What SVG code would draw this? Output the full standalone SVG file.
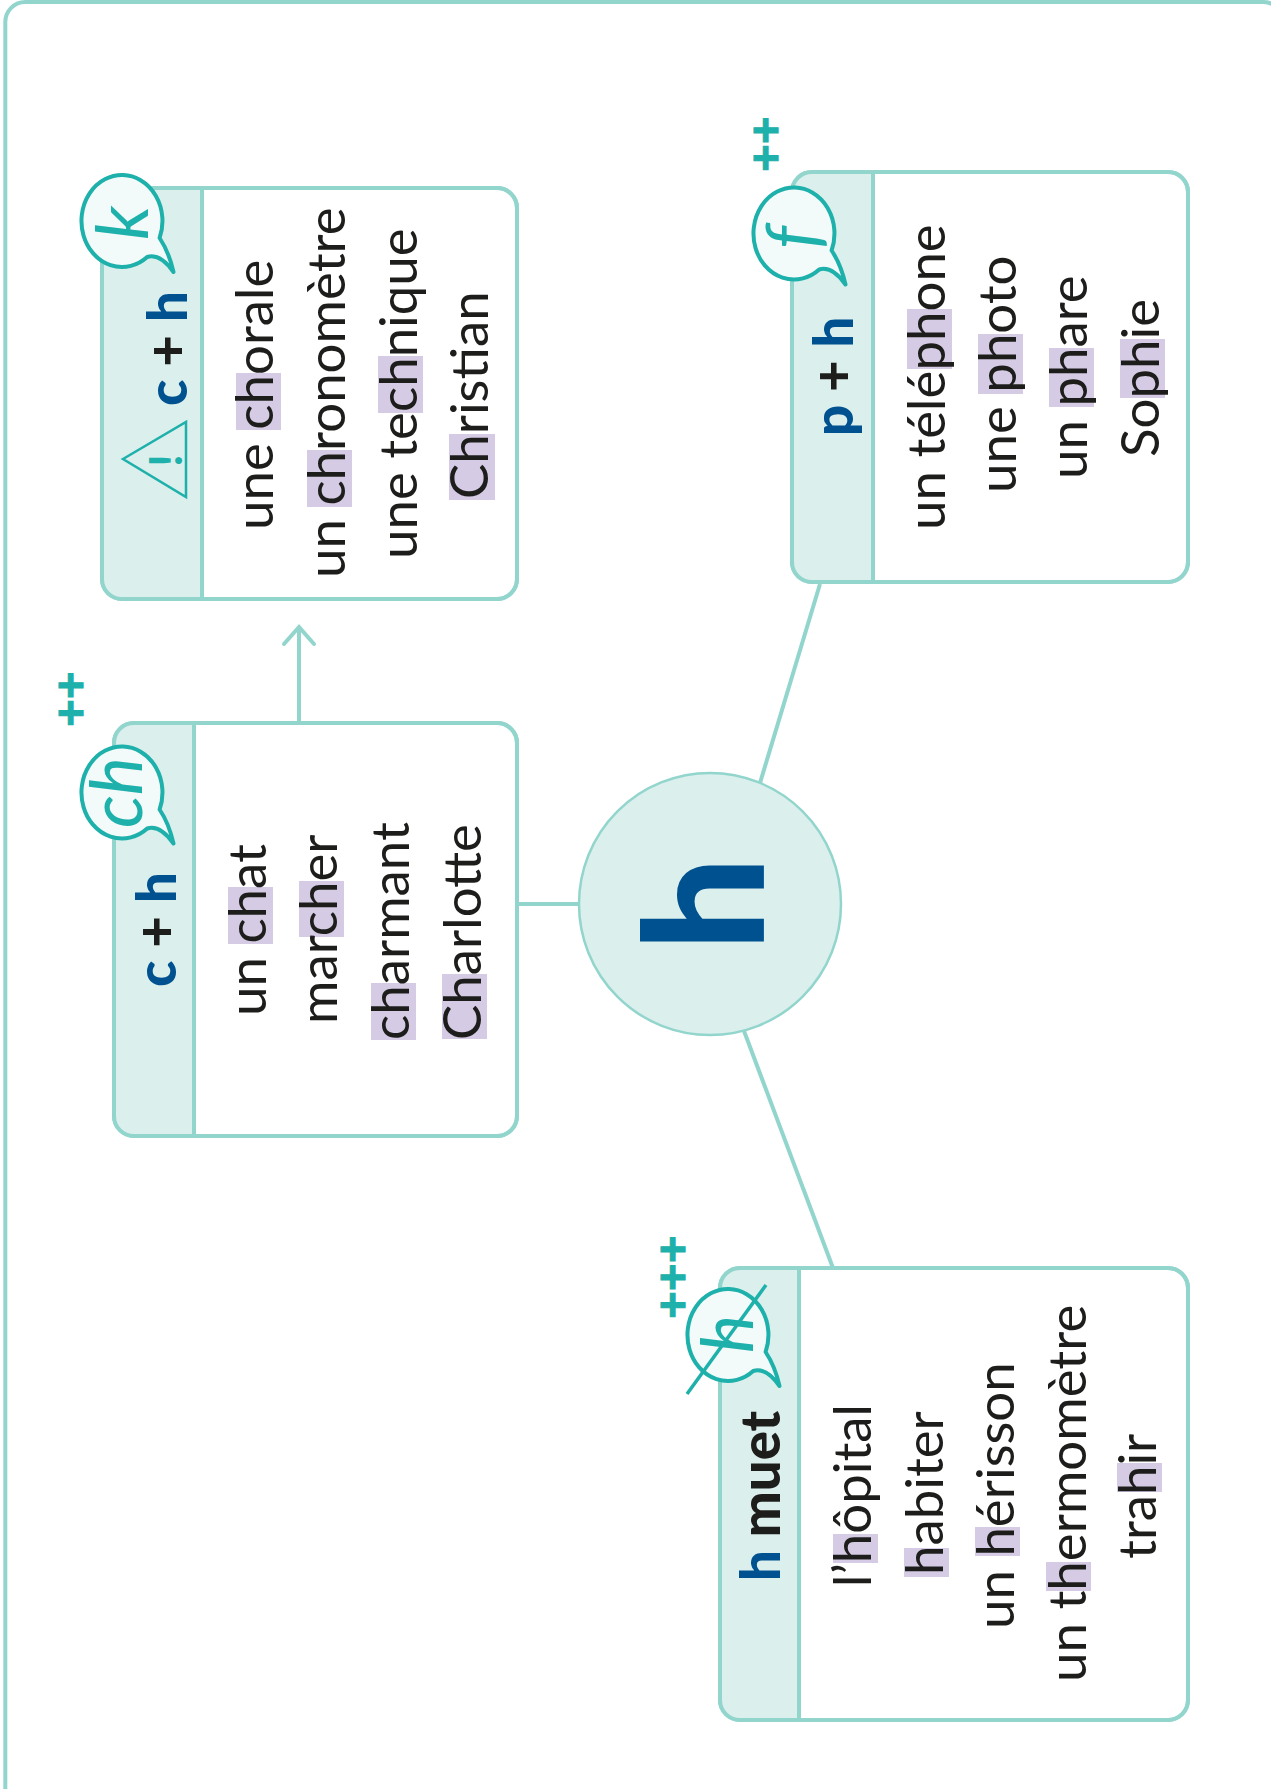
<svg xmlns="http://www.w3.org/2000/svg" width="1271" height="1789" viewBox="0 0 1271 1789">
<style>
.card{fill:#fff;stroke:#92d5cd;stroke-width:4}
.head{fill:#dbefed}
.div{stroke:#92d5cd;stroke-width:4;fill:none}
.hl{fill:#d6cbe4}
.t{font-family:"Lato","Noto Sans",sans-serif;font-size:52.8px;font-weight:400;fill:#1d1d1b}
.lab{font-family:"Lato","Noto Sans",sans-serif;font-size:54.5px;font-weight:900;fill:#1d1d1b}
.navy{fill:#00518f}
.it{font-family:"Lato","Noto Sans",sans-serif;font-style:italic;font-size:72px;fill:#1eb0aa}
.pl{font-family:"Lato","Noto Sans",sans-serif;font-weight:900;font-size:48px;fill:#1eb0aa;stroke:#1eb0aa;stroke-width:1}
.conn{stroke:#92d5cd;stroke-width:4;fill:none}
.bub{fill:#f2fafa;stroke:#1eb0aa;stroke-width:4;stroke-linejoin:round}
</style>
<defs>
<path id="bubble" d="M37.6,17 Q47,31 51.5,51 Q38,32 25.2,36 A40.5,46 0 1 1 37.6,17 Z"/>
<marker id="open" markerUnits="userSpaceOnUse" markerWidth="40" markerHeight="40" refX="20" refY="20" orient="auto" viewBox="0 0 40 40"><path d="M3,5 L20,20 L3,35" fill="none" stroke="#92d5cd" stroke-width="4" stroke-linecap="round"/></marker>
</defs>
<rect id="frame" x="5.3" y="2" width="1278" height="1850" rx="20" fill="none" stroke="#92d5cd" stroke-width="4"/>
<g id="connectors">
<path class="conn" d="M517,904H579"/>
<path class="conn" d="M760,783L820,584"/>
<path class="conn" d="M744,1031L833,1268"/>
<path class="conn" d="M299,723V627" marker-end="url(#open)"/>
</g>
<g id="center">
<circle cx="710" cy="904" r="131" fill="#dbefed" stroke="#92d5cd" stroke-width="2.5"/>
<text class="lab navy" transform="translate(764,941) rotate(-90)" style="font-size:166px" dx="-10">h</text>
</g>
<g id="card-k">
<rect class="card" x="102" y="188" width="415" height="411" rx="20"/>
<path class="head" d="M202,188H122A20,20 0 0 0 102,208V579A20,20 0 0 0 122,599H202Z"/>
<path class="div" d="M202,188V599"/>
<rect class="card" style="fill:none" x="102" y="188" width="415" height="411" rx="20"/>
<rect class="hl" x="236" y="373" width="45" height="57"/>
<rect class="hl" x="307" y="450" width="45" height="57"/>
<rect class="hl" x="378" y="356" width="45" height="57"/>
<rect class="hl" x="449" y="434" width="46" height="66"/>
<text class="t" transform="translate(273,530) rotate(-90)">une chorale</text>
<text class="t" transform="translate(345,578) rotate(-90)">un chronomètre</text>
<text class="t" transform="translate(417,559) rotate(-90)">une technique</text>
<text class="t" transform="translate(488,499) rotate(-90)">Christian</text>
<text class="lab" transform="translate(187,406) rotate(-90)"><tspan class="navy">c</tspan> + <tspan class="navy">h</tspan></text>
<path d="M123,459L186,422V497Z" fill="none" stroke="#1eb0aa" stroke-width="2.5"/>
<text class="lab" style="fill:#1eb0aa;font-size:46px;font-weight:700" transform="translate(182,467) rotate(-90)">!</text>
<use href="#bubble" class="bub" x="122" y="221"/>
<text class="it" transform="translate(148,240) rotate(-90)">k</text>
</g>
<g id="card-ch">
<rect class="card" x="114" y="723" width="403" height="413" rx="20"/>
<path class="head" d="M194,723H134A20,20 0 0 0 114,743V1116A20,20 0 0 0 134,1136H194Z"/>
<path class="div" d="M194,723V1136"/>
<rect class="card" style="fill:none" x="114" y="723" width="403" height="413" rx="20"/>
<rect class="hl" x="228" y="887" width="45" height="57"/>
<rect class="hl" x="299" y="881" width="45" height="56"/>
<rect class="hl" x="371" y="983" width="45" height="57"/>
<rect class="hl" x="442" y="974" width="45" height="65"/>
<text class="t" transform="translate(266,1016) rotate(-90)">un chat</text>
<text class="t" transform="translate(337,1024) rotate(-90)">marcher</text>
<text class="t" transform="translate(409,1040) rotate(-90)">charmant</text>
<text class="t" transform="translate(481,1040) rotate(-90)">Charlotte</text>
<text class="lab" transform="translate(176,987) rotate(-90)"><tspan class="navy">c</tspan> + <tspan class="navy">h</tspan></text>
<use href="#bubble" class="bub" x="122" y="792.5"/>
<text class="it" transform="translate(142,828) rotate(-90)">ch</text>
<text class="pl" transform="translate(87,727) rotate(-90)">++</text>
</g>
<g id="card-f">
<rect class="card" x="792" y="172" width="396" height="410" rx="20"/>
<path class="head" d="M873,172H812A20,20 0 0 0 792,192V562A20,20 0 0 0 812,582H873Z"/>
<path class="div" d="M873,172V582"/>
<rect class="card" style="fill:none" x="792" y="172" width="396" height="410" rx="20"/>
<rect class="hl" x="907" y="309" width="45" height="60"/>
<rect class="hl" x="978" y="334" width="45" height="60"/>
<rect class="hl" x="1049" y="348" width="45" height="59"/>
<rect class="hl" x="1120" y="339" width="45" height="59"/>
<text class="t" transform="translate(945,530) rotate(-90)">un téléphone</text>
<text class="t" transform="translate(1016,493) rotate(-90)">une photo</text>
<text class="t" transform="translate(1087,479) rotate(-90)">un phare</text>
<text class="t" transform="translate(1159,457) rotate(-90)">Sophie</text>
<text class="lab" transform="translate(853,436) rotate(-90)"><tspan class="navy">p</tspan> + <tspan class="navy">h</tspan></text>
<use href="#bubble" class="bub" x="794" y="233.5"/>
<text class="it" transform="translate(818,249) rotate(-90)">f</text>
<text class="pl" transform="translate(782,172) rotate(-90)">++</text>
</g>
<g id="card-h">
<rect class="card" x="720" y="1268" width="468" height="452" rx="20"/>
<path class="head" d="M799,1268H740A20,20 0 0 0 720,1288V1700A20,20 0 0 0 740,1720H799Z"/>
<path class="div" d="M799,1268V1720"/>
<rect class="card" style="fill:none" x="720" y="1268" width="468" height="452" rx="20"/>
<rect class="hl" x="833" y="1534" width="45" height="29"/>
<rect class="hl" x="904" y="1548" width="45" height="29"/>
<rect class="hl" x="975" y="1527" width="45" height="29"/>
<rect class="hl" x="1046" y="1562" width="45" height="29"/>
<rect class="hl" x="1117" y="1463" width="45" height="29"/>
<text class="t" transform="translate(871,1587) rotate(-90)">l’hôpital</text>
<text class="t" transform="translate(943,1575) rotate(-90)">habiter</text>
<text class="t" transform="translate(1014,1629) rotate(-90)">un hérisson</text>
<text class="t" transform="translate(1086,1682) rotate(-90)">un thermomètre</text>
<text class="t" transform="translate(1156,1559) rotate(-90)">trahir</text>
<text class="lab" transform="translate(780,1581) rotate(-90)"><tspan class="navy">h</tspan> muet</text>
<use href="#bubble" class="bub" x="728" y="1335"/>
<text class="it" transform="translate(753,1353) rotate(-90)">h</text>
<path d="M687,1394L766,1285" stroke="#1eb0aa" stroke-width="3.5" fill="none"/>
<text class="pl" transform="translate(689,1319) rotate(-90)">+++</text>
</g>
</svg>
